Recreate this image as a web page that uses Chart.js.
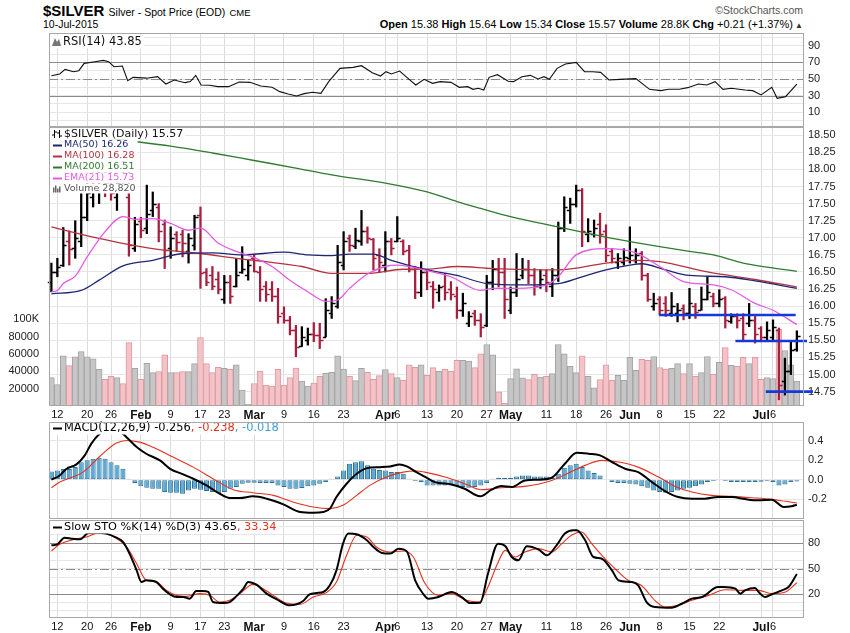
<!DOCTYPE html>
<html>
<head>
<meta charset="utf-8">
<title>$SILVER</title>
<script src="https://cdn.jsdelivr.net/npm/chart.js@4.4.1/dist/chart.umd.min.js"></script>
<style>
  html, body { margin: 0; padding: 0; background: #fff; }
  body { width: 850px; height: 633px; position: relative; overflow: hidden; font-family: "Liberation Sans", Arial, sans-serif; color: #000; }
  .hd { position: absolute; white-space: nowrap; line-height: 1; font-family: "Liberation Sans", Arial, sans-serif; }
  #sym { left: 43px; top: 3px; font-size: 15px; font-weight: bold; }
  #sym .d { font-size: 10.5px; font-weight: normal; }
  #sym .x { font-size: 9.5px; font-weight: normal; }
  #date { left: 43px; top: 19px; font-size: 10.5px; }
  #quote { right: 47px; top: 19px; font-size: 11px; }
  #quote .t { font-size: 8px; color: #333; }
  #copy { right: 47px; top: 5px; font-size: 10.5px; color: #555; }
  canvas { position: absolute; left: 0; }
</style>
</head>
<body>
<div id="sym" class="hd">$SILVER <span class="d">Silver - Spot Price (EOD)</span> <span class="x">CME</span></div>
<div id="date" class="hd">10-Jul-2015</div>
<div id="quote" class="hd"><b>Open</b> 15.38 <b>High</b> 15.64 <b>Low</b> 15.34 <b>Close</b> 15.57 <b>Volume</b> 28.8K <b>Chg</b> +0.21 (+1.37%)<span class="t"> &#9650;</span></div>
<div id="copy" class="hd">&copy;StockCharts.com</div>

<canvas id="rsi" width="850" height="96" style="top:32px"></canvas>
<canvas id="main" width="850" height="295" style="top:126px"></canvas>
<canvas id="macd" width="850" height="99" style="top:421px"></canvas>
<canvas id="sto" width="850" height="114" style="top:519px"></canvas>

<script>
// trading days, 9 Jan - 10 Jul 2015
const dates = ['01-09','01-12','01-13','01-14','01-15','01-16','01-20','01-21','01-22','01-23','01-26','01-27','01-28','01-29','01-30',
  '02-02','02-03','02-04','02-05','02-06','02-09','02-10','02-11','02-12','02-13','02-17','02-18','02-19','02-20','02-23','02-24','02-25','02-26','02-27',
  '03-02','03-03','03-04','03-05','03-06','03-09','03-10','03-11','03-12','03-13','03-16','03-17','03-18','03-19','03-20','03-23','03-24','03-25','03-26','03-27','03-30','03-31',
  '04-01','04-02','04-06','04-07','04-08','04-09','04-10','04-13','04-14','04-15','04-16','04-17','04-20','04-21','04-22','04-23','04-24','04-27','04-28','04-29','04-30',
  '05-01','05-04','05-05','05-06','05-07','05-08','05-11','05-12','05-13','05-14','05-15','05-18','05-19','05-20','05-21','05-22','05-26','05-27','05-28','05-29',
  '06-01','06-02','06-03','06-04','06-05','06-08','06-09','06-10','06-11','06-12','06-15','06-16','06-17','06-18','06-19','06-22','06-23','06-24','06-25','06-26','06-29','06-30',
  '07-01','07-02','07-06','07-07','07-08','07-09','07-10'];

const tickDates = ['01-12','01-20','01-26','02-02','02-09','02-17','02-23','03-02','03-09','03-16','03-23','04-01','04-06',
  '04-13','04-20','04-27','05-01','05-11','05-18','05-26','06-01','06-08','06-15','06-22','07-01','07-06'];
const tickText = ['12','20','26','Feb','9','17','23','Mar','9','16','23','Apr','6','13','20','27','May','11','18','26','Jun','8','15','22','Jul','6'];

const opens = [16.35,16.50,16.60,16.95,16.85,16.95,17.30,17.60,17.70,17.95,
  17.85,17.60,17.85,17.60,16.85,17.25,17.15,17.40,17.45,17.20,
  16.85,17.05,17.05,16.80,16.90,17.33,16.50,16.45,16.40,16.10,
  16.35,16.30,16.50,16.45,16.70,16.50,16.30,16.25,16.15,15.90,
  15.80,15.65,15.42,15.50,15.60,15.58,15.55,15.90,16.00,16.60,
  17.00,16.88,16.95,17.10,16.98,16.75,16.60,16.95,16.95,16.95,
  16.82,16.55,16.20,16.50,16.30,16.20,16.30,16.25,16.15,15.95,
  15.75,15.90,15.80,15.72,16.35,16.55,16.50,15.95,16.20,16.45,
  16.55,16.45,16.30,16.45,16.30,16.45,17.15,17.40,17.50,17.70,
  17.05,17.05,17.20,17.10,16.80,16.65,16.65,16.70,16.68,16.78,
  16.45,16.00,16.10,16.05,15.90,15.90,15.98,15.90,16.00,15.95,
  16.10,16.15,16.05,16.12,15.78,15.85,15.82,15.75,15.80,15.68,
  15.55,15.55,15.65,14.90,15.05,15.38];
const highs = [16.63,16.70,17.15,17.10,17.25,17.65,17.85,17.95,18.00,18.10,
  18.00,17.90,18.15,18.05,17.30,17.30,17.77,17.67,17.50,17.26,
  17.16,17.09,17.11,17.06,17.33,17.45,16.55,16.58,16.50,16.45,
  16.45,16.70,16.87,16.67,16.75,16.58,16.36,16.36,16.26,15.99,
  15.85,15.72,15.70,15.68,15.76,15.75,16.11,16.14,16.89,17.09,
  17.04,17.14,17.40,17.16,16.99,16.84,17.09,16.99,17.31,16.97,
  16.89,16.58,16.65,16.53,16.36,16.31,16.48,16.36,16.28,16.19,
  15.92,15.94,15.89,16.45,16.67,16.70,16.70,16.28,16.77,16.70,
  16.67,16.55,16.53,16.53,16.55,17.23,17.60,17.58,17.77,17.72,
  17.28,17.26,17.36,17.19,16.84,16.77,16.84,17.16,16.84,16.80,
  16.48,16.19,16.14,16.14,16.20,16.04,16.02,16.26,16.04,16.28,
  16.43,16.19,16.24,16.14,15.89,15.89,15.89,16.04,15.85,15.70,
  15.77,15.80,15.68,15.24,15.50,15.64];
const lows = [16.21,16.43,16.58,16.60,16.70,16.87,17.25,17.45,17.50,17.60,
  17.55,17.40,17.70,16.73,16.80,17.00,17.06,17.31,16.94,16.55,
  16.70,16.80,16.72,16.63,16.82,16.26,16.30,16.24,16.18,16.04,
  16.04,16.28,16.48,16.38,16.50,16.07,16.07,16.07,15.75,15.75,
  15.58,15.26,15.41,15.43,15.48,15.38,15.55,15.82,15.97,16.53,
  16.80,16.84,16.89,16.92,16.53,16.50,16.50,16.75,16.94,16.75,
  16.50,16.11,16.14,16.24,15.97,16.07,16.09,16.09,15.82,15.85,
  15.70,15.72,15.55,15.70,16.24,16.28,15.82,15.89,16.14,16.40,
  16.33,16.16,16.26,16.21,16.14,16.36,17.09,17.21,17.45,16.87,
  16.94,17.01,16.92,16.65,16.63,16.55,16.60,16.63,16.63,16.38,
  16.07,15.94,15.87,15.85,15.85,15.77,15.80,15.82,15.82,15.94,
  16.09,15.99,15.99,15.68,15.75,15.68,15.48,15.70,15.46,15.48,
  15.48,15.50,14.63,14.70,15.00,15.34];
const closes = [16.50,16.58,16.90,16.84,17.00,17.30,17.65,17.75,17.90,17.80,
  17.65,17.80,17.75,16.90,17.20,17.12,17.35,17.50,17.10,16.82,
  17.00,16.94,16.92,17.00,17.30,16.48,16.35,16.30,16.25,16.35,
  16.15,16.45,16.55,16.60,16.52,16.25,16.18,16.15,15.85,15.80,
  15.65,15.40,15.55,15.60,15.58,15.50,15.95,16.05,16.65,16.95,
  16.90,16.97,17.10,17.00,16.70,16.65,16.95,16.85,17.00,16.80,
  16.55,16.20,16.50,16.35,16.25,16.28,16.20,16.18,15.95,16.05,
  15.85,15.80,15.70,16.35,16.55,16.50,16.10,16.20,16.40,16.55,
  16.45,16.30,16.40,16.35,16.45,17.15,17.45,17.50,17.70,17.10,
  17.10,17.15,17.05,16.75,16.70,16.70,16.72,16.75,16.75,16.45,
  16.10,16.05,15.95,15.95,16.00,15.95,15.90,16.05,15.92,16.10,
  16.20,16.05,16.10,15.80,15.85,15.80,15.60,15.80,15.60,15.55,
  15.65,15.70,14.85,15.05,15.36,15.57];
// volume in thousands
const volumeK = [32.8,24.8,57.9,46.5,56.8,62.9,56.8,54.5,42.3,30.9,
  34.3,32.8,25.9,73.1,43.4,30.9,49.1,38.5,39.6,59.0,
  38.5,38.5,39.6,39.6,48.8,78.9,48.8,38.5,44.6,43.4,
  42.3,47.6,18.3,2.3,25.9,40.4,24.0,22.9,42.3,24.0,
  32.8,43.8,28.6,22.9,26.3,34.3,37.7,38.9,57.9,42.7,
  34.3,29.3,43.4,38.9,30.9,35.0,41.9,37.3,32.8,29.7,
  47.6,44.6,47.6,35.4,44.2,40.0,42.3,40.0,52.6,52.6,
  51.8,44.2,60.2,70.9,59.0,16.4,3.0,31.6,43.0,32.4,
  30.5,36.6,33.5,34.3,37.3,70.9,60.2,45.7,38.5,57.9,
  34.3,21.0,30.5,47.6,29.7,35.4,29.7,56.0,41.1,53.7,
  52.6,57.1,44.2,42.7,43.4,48.8,37.3,48.8,34.3,38.5,
  57.1,36.6,50.3,67.4,46.9,45.7,56.0,48.8,56.0,30.9,
  32.8,31.6,88.4,64.0,47.6,28.8];

// overlays: [bar index, value]
const ma50 = [[0,16.18],[5,16.23],[8,16.38],[12,16.59],[17,16.67],[22,16.77],[27,16.78],[32,16.75],[39,16.79],[43,16.75],[47,16.74],[50,16.76],[54,16.76],[57,16.67],[63,16.53],[68,16.45],[73,16.33],[79,16.31],[85,16.33],[89,16.43],[93,16.53],[97,16.60],[99,16.62],[103,16.53],[107,16.45],[113,16.43],[118,16.37],[125,16.26]];
const ma100 = [[0,17.16],[8,16.99],[17,16.84],[25,16.77],[31,16.70],[36,16.65],[42,16.58],[47,16.48],[53,16.48],[59,16.54],[63,16.54],[68,16.58],[74,16.55],[85,16.53],[93,16.63],[98,16.67],[102,16.65],[110,16.50],[118,16.39],[125,16.28]];
const ma200 = [[0,18.56],[6,18.50],[12,18.43],[20,18.34],[27,18.24],[34,18.13],[41,18.02],[47,17.92],[56,17.80],[63,17.67],[68,17.53],[72,17.43],[77,17.31],[85,17.16],[93,17.01],[98,16.93],[102,16.87],[107,16.80],[111,16.75],[116,16.63],[120,16.57],[125,16.51]];
const ema21 = [[0,16.21],[1,16.23],[2,16.33],[4,16.44],[6,16.72],[9,17.09],[12,17.31],[14,17.27],[17,17.28],[20,17.21],[23,17.11],[25,17.14],[28,16.92],[31,16.80],[34,16.71],[37,16.58],[40,16.38],[43,16.21],[46,16.07],[48,16.09],[50,16.26],[53,16.47],[56,16.58],[58,16.60],[63,16.52],[67,16.43],[72,16.23],[74,16.26],[78,16.26],[83,16.31],[85,16.43],[88,16.75],[93,16.84],[98,16.78],[102,16.58],[106,16.36],[111,16.31],[114,16.24],[118,16.04],[121,15.94],[125,15.73]];
// horizontal support lines: [from bar, to bar, price]
const supports = [[101.9,124.8,15.87],[114.7,126.7,15.49],[119.8,127.7,14.75]];

const rsi = [[0,54],[1.4,56],[2.3,61.6],[3.7,58.8],[4.6,60],[5.5,68.8],[7.3,70.8],[8.7,72.4],[9.6,70.8],[10.5,64.8],[11.9,65.6],[12.8,48],[13.7,52],[16,51],[17.8,52.8],[19.2,44],[20.6,48.8],[22.4,45.6],[23.3,47],[24.2,54.4],[25.1,42.8],[26.5,42.4],[27.9,40.8],[29.7,40.8],[31.5,46.4],[33.3,46],[35.1,41.6],[37,40],[38.3,34.8],[39.7,32],[41.1,29.6],[42.4,32.4],[43.8,34],[45.2,32.8],[46.5,46.8],[48.4,62.8],[50.6,64],[52,66],[53.8,57.6],[55.2,53.6],[56.1,58.8],[57,56],[58.4,59.6],[59.8,50.8],[61.1,42.8],[62.5,49.6],[63.9,44.8],[65.2,46.8],[67,46],[68.4,40],[69.8,40.8],[70.7,37.6],[71.6,38.8],[72.5,36.8],[73.4,52],[74.8,55.2],[76.6,47.2],[77.5,46.8],[78.9,52.8],[80.3,54.4],[81.6,50],[82.6,52.8],[83.5,49.6],[84.8,62.8],[86.2,68],[88,70],[89.4,58.8],[90.8,58.8],[92.1,58],[93.5,48.8],[95.3,49.6],[98,50.4],[100.3,37.6],[102.2,36],[103.5,37.6],[105.3,37.6],[106.7,39.6],[108.5,44],[109.9,42.8],[111.3,46.8],[112.6,37.6],[114,38.8],[116.3,36.8],[117.6,36],[119,30.8],[120.8,40],[121.7,26.8],[123.1,28.8],[125,43.85]];

const macd = [[0,0.0],[1.4,0.044],[2.5,0.11],[4.2,0.157],[5.6,0.25],[6.7,0.37],[8.1,0.47],[10,0.54],[11,0.52],[12.6,0.436],[14.3,0.334],[15.9,0.266],[18.2,0.198],[19.9,0.112],[22.1,0.055],[23.8,0.01],[26,-0.058],[28.2,-0.143],[29.9,-0.187],[31.6,-0.187],[33.8,-0.17],[36.1,-0.194],[38.9,-0.252],[41.7,-0.33],[43.9,-0.337],[45.6,-0.33],[46.7,-0.296],[47.8,-0.177],[49.5,-0.041],[51.2,0.061],[52.9,0.119],[55.1,0.129],[56.8,0.136],[58.4,0.157],[59.6,0.136],[61.2,0.078],[62.6,0.032],[64.3,-0.024],[67.1,-0.048],[69.3,-0.092],[71.9,-0.17],[73.8,-0.102],[75.5,-0.065],[77.2,-0.075],[79.4,-0.007],[81.7,0],[83.9,0.02],[86.1,0.164],[88.1,0.276],[90.1,0.266],[92,0.249],[94,0.181],[96.2,0.112],[98.4,0.078],[100.7,-0.024],[102.9,-0.116],[105.1,-0.177],[107.4,-0.194],[109.6,-0.194],[111.8,-0.177],[114.1,-0.177],[116.3,-0.198],[118.5,-0.211],[120.8,-0.204],[122.8,-0.279],[124.1,-0.272],[125,-0.256]];
const signal = [[0,-0.082],[1.4,-0.024],[5.3,0.078],[8.1,0.238],[10.9,0.375],[12.6,0.402],[14.8,0.385],[17.6,0.317],[20.4,0.232],[23.8,0.129],[27.1,0.01],[30.5,-0.102],[33.8,-0.133],[37.2,-0.16],[40.5,-0.228],[43.9,-0.279],[46.7,-0.296],[48.9,-0.262],[51.2,-0.16],[53.4,-0.058],[56.2,0.027],[59,0.078],[61.2,0.089],[62.6,0.078],[66,0.027],[69.3,-0.041],[72.1,-0.102],[75.5,-0.082],[79.4,-0.068],[83.9,-0.007],[86.7,0.068],[89.5,0.147],[92.3,0.198],[95.1,0.181],[98.4,0.129],[101.8,0.027],[105.1,-0.082],[107.4,-0.126],[110.7,-0.16],[114.1,-0.17],[117.4,-0.184],[120.8,-0.201],[123.1,-0.221],[125,-0.238]];
const histogram = [0.085,0.095,0.11,0.11,0.13,0.18,0.20,0.215,0.225,0.215,
  0.18,0.147,0.112,0.01,-0.034,-0.068,-0.082,-0.092,-0.092,-0.126,
  -0.133,-0.133,-0.143,-0.109,-0.092,-0.102,-0.116,-0.126,-0.136,-0.126,
  -0.092,-0.075,-0.041,-0.031,-0.031,-0.034,-0.034,-0.034,-0.058,-0.075,
  -0.092,-0.092,-0.085,-0.068,-0.058,-0.041,-0.024,0.01,0.034,0.095,
  0.164,0.18,0.19,0.147,0.112,0.10,0.095,0.078,0.078,0.061,
  0.01,-0.014,-0.024,-0.058,-0.058,-0.058,-0.058,-0.058,-0.068,-0.075,
  -0.082,-0.075,-0.058,-0.034,0.01,0.02,0.02,0.02,0.034,0.044,
  0.044,0.034,0.034,0.034,0.02,0.061,0.123,0.147,0.164,0.13,
  0.095,0.068,0.044,0.0,-0.024,-0.034,-0.034,-0.041,-0.048,-0.068,
  -0.082,-0.109,-0.126,-0.133,-0.126,-0.109,-0.092,-0.082,-0.068,-0.048,
  -0.024,-0.014,-0.007,-0.014,-0.024,-0.024,-0.024,-0.024,-0.024,-0.02,
  -0.014,-0.024,-0.058,-0.048,-0.024,-0.018];

const stoK = [[0,77.6],[1,78.8],[2.2,86.7],[3.4,85.5],[4.8,84.7],[6.2,92.2],[7.6,92.6],[9.2,91.5],[10.9,86.7],[12,81.6],[13.1,67.8],[14.3,48],[15.1,34.2],[15.9,36.2],[17.6,34.2],[18.7,26.3],[19.9,19.6],[21,16.4],[22.1,16.4],[23.2,14.5],[24.3,23.5],[25.4,23.5],[26.3,22.4],[27.1,10.5],[28.8,9.3],[29.9,10.5],[31,17.2],[32.2,26.3],[33,34.2],[34.4,31],[36.1,20.4],[37.8,13.7],[40,6.6],[41.1,7.8],[42.2,11.7],[43.3,19.6],[44.5,21.2],[45.6,22.4],[46.7,30.3],[47.8,48],[48.9,79.6],[49.8,91.5],[51.2,90.7],[52.9,83.6],[54,75.7],[55.4,68.6],[56.8,67.8],[58.2,73.7],[59.6,70.5],[61,36.2],[62.4,19.6],[63.2,14.5],[64.9,16.4],[67.1,22.4],[68.8,16.4],[70.2,9.3],[71.9,9.7],[73.2,44],[74.9,79.6],[76.1,76.8],[77.2,63.8],[78.3,59.9],[79.7,76.4],[81.7,72.5],[83.1,65.8],[84.7,77.6],[86.1,91.5],[87.5,95.4],[88.1,95.4],[89.5,83.6],[90.9,63.8],[92.3,61.8],[94,48],[95.1,36.2],[97.3,34.2],[98.4,30.3],[99.8,10.5],[101.2,4.6],[104,3.8],[105.7,8.5],[107.4,14.5],[109.1,16.4],[111.8,28.3],[112.7,28.3],[114.7,26.3],[115.5,20.4],[116.3,24.3],[118,27.1],[118.6,22.4],[119.7,16.4],[120.8,19.6],[122.5,24.3],[123.6,28.3],[125,43.65]];
const stoD = [[0,71],[1.4,78.8],[3.6,84.3],[5.9,87.5],[8.1,92.6],[10.3,88.3],[12.6,75.7],[14.3,55.9],[15.9,36.2],[17.6,34.2],[19.3,24.3],[21,18.4],[22.7,17.2],[24.9,20.4],[26.6,18.4],[28.2,10.5],[29.9,12.5],[31.6,20.4],[33.8,31.4],[35.5,26.3],[37.2,18.4],[39.4,9.3],[41.7,7.8],[43.9,16.4],[46.1,21.6],[47.8,34.2],[49.5,65.8],[51.2,89.5],[52.9,87.5],[54.5,75.7],[56.8,69.7],[59,70.9],[60.7,63.8],[62.6,33],[64.9,18.4],[67.1,20.4],[69.3,13.3],[71.7,10.5],[73.2,28.3],[74.8,55.9],[76.1,71.7],[77.8,63.8],[79.4,69.7],[81.7,73.7],[83.9,69.7],[85.6,79.6],[87.2,89.5],[88.9,93.4],[90.6,79.6],[92.3,65.8],[94.5,50],[96.7,36.2],[98.9,30.3],[101.2,12.5],[102.9,4.6],[105.1,6.6],[107.4,12.5],[110.2,18.4],[113,25.1],[115.8,24.3],[118.6,24.3],[120.8,20.4],[123.1,22.4],[125,33.34]];

// axis ticks
const priceTicks = [14.75,15.00,15.25,15.50,15.75,16.00,16.25,16.50,16.75,17.00,17.25,17.50,17.75,18.00,18.25,18.50];
const volTicks = [20000,40000,60000,80000,100000];
const volLabels = ['20000','40000','60000','80000','100K'];
const rsiGrid = [0,10,20,30,40,50,60,70,80,90,100];
const rsiLabels = [10,30,50,70,90];
const macdTicks = [-0.2,0,0.2,0.4];
const stoGrid = [0,10,20,30,40,50,60,70,80,90,100];
const stoLabels = [20,50,80];

// ---------- helpers ----------
const AXW = 46, PADL = 49;
const SANS = '"Liberation Sans", Arial, sans-serif';
const VER = '"DejaVu Sans", Verdana, sans-serif';
const UP = '#000000', DOWN = '#a51f3e';
const tickIdx = tickDates.map(d => dates.indexOf(d));
const monthSet = new Set(tickIdx.filter((v, k) => isNaN(Number(tickText[k]))));
const isUp = i => closes[i] >= opens[i];
const pts = arr => arr.map(([x, y]) => ({ x, y }));
// keep plot areas exactly where the panels sit: no extra room for edge labels
const noPad = s => { s.paddingTop = 0; s.paddingBottom = 0; s.paddingLeft = 0; s.paddingRight = 0; };

function xAxis(showLabels) {
  return {
    type: 'linear', min: -0.4, max: 126.2, offset: false,
    afterBuildTicks: s => { s.ticks = tickIdx.map(v => ({ value: v })); },
    afterFit: s => { s.height = showLabels ? 15 : 0; noPad(s); },
    grid: { color: '#dcdcdc', drawTicks: false, offset: false },
    border: { display: false },
    ticks: {
      display: showLabels, autoSkip: false, maxRotation: 0, minRotation: 0, padding: 2, color: '#111',
      font: c => {
        const m = c.tick && monthSet.has(c.tick.value);
        return { family: SANS, size: m ? 12 : 11, weight: m ? 'bold' : 'normal' };
      },
      callback: v => tickText[tickIdx.indexOf(v)]
    }
  };
}

function yAxis(min, max, ticks, label) {
  return {
    position: 'right', min, max,
    afterBuildTicks: s => { s.ticks = ticks.map(v => ({ value: v })); },
    afterFit: s => { s.width = AXW; noPad(s); },
    grid: { color: '#e6e6e6', drawTicks: false },
    border: { display: false },
    ticks: { autoSkip: false, padding: 4, color: '#222', font: { family: SANS, size: 11 }, callback: label }
  };
}

const frame = {
  id: 'frame',
  afterDraw(chart) {
    const a = chart.chartArea, c = chart.ctx;
    c.save();
    c.strokeStyle = '#a8a8a8'; c.lineWidth = 1;
    c.strokeRect(Math.round(a.left) + 0.5, Math.round(a.top) + 0.5, Math.round(a.right - a.left) - 1, Math.round(a.bottom - a.top) - 1);
    c.restore();
  }
};

function refLines(solid, dashed) {
  return {
    id: 'refLines',
    beforeDatasetsDraw(chart) {
      const { ctx, chartArea: a, scales: { y } } = chart;
      const line = v => {
        const py = Math.round(y.getPixelForValue(v)) + 0.5;
        ctx.beginPath(); ctx.moveTo(a.left, py); ctx.lineTo(a.right, py); ctx.stroke();
      };
      ctx.save();
      ctx.strokeStyle = '#8a8a8a'; ctx.lineWidth = 1;
      solid.forEach(line);
      ctx.setLineDash([9, 3, 2, 3]);
      dashed.forEach(line);
      ctx.restore();
    }
  };
}

// legend rows with white backing; rows sharing a group get one common width
function legend(rows, x) {
  return {
    id: 'panelLegend',
    afterDatasetsDraw(chart) {
      const ctx = chart.ctx;
      ctx.save();
      ctx.textBaseline = 'middle';
      const widths = rows.map(r => {
        ctx.font = r.font;
        return r.parts.reduce((s, p) => s + ctx.measureText(p[0]).width, 0);
      });
      rows.forEach((r, k) => {
        let w = widths[k];
        if (r.group) rows.forEach((o, j) => { if (o.group === r.group) w = Math.max(w, widths[j]); });
        ctx.fillStyle = '#fff';
        ctx.fillRect(50, r.y - r.h / 2, x - 50 + w + 2, r.h);
      });
      rows.forEach(r => {
        ctx.font = r.font;
        drawIcon(ctx, r.icon, x, r.y, r.parts[0][1]);
        let cx = x;
        r.parts.forEach(p => { ctx.fillStyle = p[1]; ctx.fillText(p[0], cx, r.y); cx += ctx.measureText(p[0]).width; });
      });
      ctx.restore();
    }
  };
}

function drawIcon(ctx, kind, x, y, color) {
  ctx.save();
  if (kind === 'dash') {
    ctx.strokeStyle = color; ctx.lineWidth = 2;
    ctx.beginPath(); ctx.moveTo(x - 11, y + 0.5); ctx.lineTo(x - 2, y + 0.5); ctx.stroke();
  } else if (kind === 'ohlc') {
    ctx.strokeStyle = '#000'; ctx.lineWidth = 1;
    [x - 10, x - 5].forEach((bx, k) => {
      ctx.beginPath();
      ctx.moveTo(bx + 0.5, y - 4); ctx.lineTo(bx + 0.5, y + 4);
      ctx.moveTo(bx - 2, y + (k ? -1 : 1)); ctx.lineTo(bx, y + (k ? -1 : 1));
      ctx.moveTo(bx + 1, y + (k ? 2 : -2)); ctx.lineTo(bx + 3, y + (k ? 2 : -2));
      ctx.stroke();
    });
  } else if (kind === 'vol') {
    ctx.fillStyle = '#666';
    [[-11, 5], [-9, 7], [-7, 4], [-5, 6]].forEach(([dx, h]) => ctx.fillRect(x + dx, y + 4 - h, 1.5, h));
  } else if (kind === 'mount') {
    ctx.fillStyle = '#777';
    ctx.beginPath();
    ctx.moveTo(x - 11, y + 4); ctx.lineTo(x - 8, y - 4); ctx.lineTo(x - 6, y); ctx.lineTo(x - 4, y - 3); ctx.lineTo(x - 2, y + 4);
    ctx.closePath(); ctx.fill();
  }
  ctx.restore();
}

const baseOpts = {
  responsive: false, animation: false, events: [],
  plugins: { legend: { display: false }, tooltip: { enabled: false } }
};
const lineDs = (data, color, width, yAxisID, smooth, order) => ({
  type: 'line', data: pts(data), borderColor: color, borderWidth: width, pointRadius: 0,
  cubicInterpolationMode: smooth ? 'monotone' : 'default', tension: 0, yAxisID, order, fill: false
});

// ---------- RSI ----------
new Chart(document.getElementById('rsi'), {
  data: { datasets: [lineDs(rsi, '#111', 1.1, 'y', false, 1)] },
  options: Object.assign({}, baseOpts, {
    layout: { padding: { left: PADL, top: 1, bottom: 1 } },
    scales: {
      x: xAxis(false),
      y: yAxis(-7.7, 105.3, rsiGrid, v => rsiLabels.includes(v) ? String(v) : '')
    }
  }),
  plugins: [refLines([30, 70], [50]), legend([{ y: 10, h: 13, font: '11.5px ' + VER, icon: 'mount', parts: [['RSI(14) 43.85', '#111']] }], 63), frame]
});

// ---------- price + volume ----------
const ohlcTicks = {
  id: 'ohlcTicks',
  afterDatasetDraw(chart, args) {
    if (args.index !== 1) return;
    const { ctx, scales: { x, y } } = chart;
    ctx.save();
    ctx.lineWidth = 1.4;
    closes.forEach((c, i) => {
      const px = Math.round(x.getPixelForValue(i));
      const po = Math.round(y.getPixelForValue(opens[i])) + 0.5;
      const pc = Math.round(y.getPixelForValue(c)) + 0.5;
      ctx.strokeStyle = isUp(i) ? UP : DOWN;
      ctx.beginPath();
      ctx.moveTo(px - 3.2, po); ctx.lineTo(px, po);
      ctx.moveTo(px, pc); ctx.lineTo(px + 3.6, pc);
      ctx.stroke();
    });
    ctx.restore();
  }
};
const supportLines = {
  id: 'supportLines',
  afterDatasetsDraw(chart) {
    const { ctx, scales: { x, y } } = chart;
    ctx.save();
    ctx.strokeStyle = '#1538d6'; ctx.lineWidth = 2.6;
    supports.forEach(([a, b, p]) => {
      const py = y.getPixelForValue(p);
      ctx.beginPath(); ctx.moveTo(x.getPixelForValue(a), py); ctx.lineTo(x.getPixelForValue(b), py); ctx.stroke();
    });
    ctx.restore();
  }
};

new Chart(document.getElementById('main'), {
  data: {
    datasets: [
      {
        type: 'bar', yAxisID: 'yv', order: 10, grouped: false,
        data: volumeK.map((v, i) => ({ x: i, y: v * 1000 })),
        backgroundColor: volumeK.map((v, i) => isUp(i) ? '#c6c6c6' : '#f3c3c8'),
        borderColor: volumeK.map((v, i) => isUp(i) ? '#a4a4a4' : '#dc9aa3'),
        borderWidth: 1, borderSkipped: false, barPercentage: 1, categoryPercentage: 1
      },
      {
        type: 'bar', yAxisID: 'y', order: 5, grouped: false,
        data: lows.map((l, i) => ({ x: i, y: [l, highs[i]] })),
        backgroundColor: closes.map((c, i) => isUp(i) ? UP : DOWN),
        barThickness: 1.6, borderWidth: 0
      },
      lineDs(ma200, '#2f7b2f', 1.3, 'y', true, 4),
      lineDs(ma100, '#b3343f', 1.3, 'y', true, 3),
      lineDs(ma50, '#1d2675', 1.3, 'y', true, 2),
      lineDs(ema21, '#e35ae3', 1.3, 'y', true, 1)
    ]
  },
  options: Object.assign({}, baseOpts, {
    layout: { padding: { top: 1 } },
    scales: {
      x: xAxis(true),
      y: yAxis(14.54, 18.62, priceTicks, v => v.toFixed(2)),
      yv: {
        position: 'left', min: 0, max: 321800,
        afterBuildTicks: s => { s.ticks = volTicks.map(v => ({ value: v })); },
        afterFit: s => { s.width = PADL; noPad(s); },
        grid: { display: false }, border: { display: false },
        ticks: { autoSkip: false, padding: 2, color: '#222', font: { family: SANS, size: 11 }, callback: v => volLabels[volTicks.indexOf(v)] }
      }
    }
  }),
  plugins: [ohlcTicks, supportLines, legend([
    { y: 8, h: 11, font: '11px ' + VER, icon: 'ohlc', parts: [['$SILVER (Daily) 15.57', '#111']] },
    { y: 19, h: 11, group: 1, font: '9.5px ' + VER, icon: 'dash', parts: [['MA(50) 16.26', '#1d2675']] },
    { y: 30, h: 11, group: 1, font: '9.5px ' + VER, icon: 'dash', parts: [['MA(100) 16.28', '#b3343f']] },
    { y: 41, h: 11, group: 1, font: '9.5px ' + VER, icon: 'dash', parts: [['MA(200) 16.51', '#2f7b2f']] },
    { y: 52, h: 11, group: 1, font: '9.5px ' + VER, icon: 'dash', parts: [['EMA(21) 15.73', '#e35ae3']] },
    { y: 62.5, h: 10, group: 1, font: '9.5px ' + VER, icon: 'vol', parts: [['Volume 28,820', '#555']] }
  ], 64), frame]
});

// ---------- MACD ----------
new Chart(document.getElementById('macd'), {
  data: {
    datasets: [
      {
        type: 'bar', order: 5, data: histogram.map((v, i) => ({ x: i, y: v })),
        backgroundColor: '#5eaad5', borderColor: '#2f6f96', borderWidth: 1, borderSkipped: false,
        barPercentage: 0.85, categoryPercentage: 1
      },
      lineDs(signal, '#e2321d', 1.1, 'y', true, 2),
      lineDs(macd, '#000', 2, 'y', true, 1)
    ]
  },
  options: Object.assign({}, baseOpts, {
    layout: { padding: { left: PADL, top: 1, bottom: 1 } },
    scales: {
      x: xAxis(false),
      y: yAxis(-0.402, 0.591, macdTicks, v => v.toFixed(1))
    }
  }),
  plugins: [legend([{ y: 7, h: 13, font: '11.4px ' + VER, icon: 'dash',
    parts: [['MACD(12,26,9) -0.256', '#000'], [', -0.238', '#e2321d'], [', -0.018', '#3d9ed3']] }], 64), frame]
});

// ---------- Slow stochastic ----------
new Chart(document.getElementById('sto'), {
  data: {
    datasets: [
      lineDs(stoD, '#e2321d', 1.1, 'y', true, 2),
      lineDs(stoK, '#000', 2, 'y', true, 1)
    ]
  },
  options: Object.assign({}, baseOpts, {
    layout: { padding: { left: PADL, top: 1 } },
    scales: {
      x: xAxis(true),
      y: yAxis(-8.4, 107.6, stoGrid, v => stoLabels.includes(v) ? String(v) : '')
    }
  }),
  plugins: [refLines([20, 80], [50]), legend([{ y: 8, h: 13, font: '11.3px ' + VER, icon: 'dash',
    parts: [['Slow STO %K(14) %D(3) 43.65', '#000'], [', 33.34', '#e2321d']] }], 64), frame]
});
</script>
</body>
</html>
